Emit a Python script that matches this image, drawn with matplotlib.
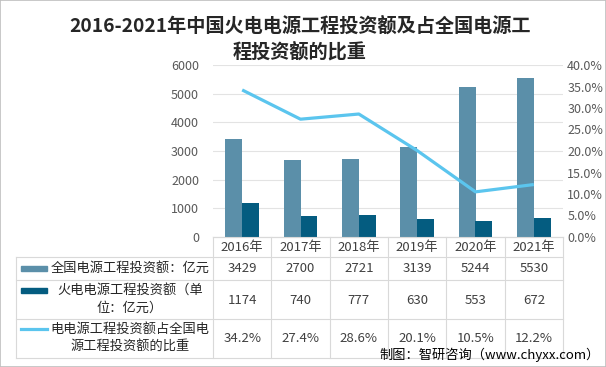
import matplotlib
matplotlib.use("Agg")
import matplotlib.pyplot as plt
from matplotlib.transforms import blended_transform_factory
from matplotlib.patches import Rectangle
from matplotlib.lines import Line2D

plt.rcParams['font.family'] = ['Noto Sans CJK SC', 'DejaVu Sans']

years = ['2016年', '2017年', '2018年', '2019年', '2020年', '2021年']
total_invest = [3429, 2700, 2721, 3139, 5244, 5530]
thermal_invest = [1174, 740, 777, 630, 553, 672]
share_pct = [34.2, 27.4, 28.6, 20.1, 10.5, 12.2]
row_labels = ['全国电源工程投资额：亿元', '火电电源工程投资额（单\n位：亿元）',
              '电电源工程投资额占全国电\n源工程投资额的比重']
title = '2016-2021年中国火电电源工程投资额及占全国电源工\n程投资额的比重'
source = '制图：智研咨询（www.chyxx.com）'

W, H = 606, 367
c_total = '#5B8FA9'
c_thermal = '#045C80'
c_line = '#5BC5EE'
c_grid = '#D9D9D9'
c_text = '#404040'

fig = plt.figure(figsize=(W / 100, H / 100), dpi=100)
AX_L, AX_R, AX_T, AX_B = 213, 563, 65, 237
ax = fig.add_axes([AX_L / W, 1 - AX_B / H, (AX_R - AX_L) / W, (AX_B - AX_T) / H])
ax2 = ax.twinx()

def fy(py):
    return (AX_B - py) / (AX_B - AX_T)

def fx(px):
    return (px - AX_L) / (AX_R - AX_L)

x = list(range(len(years)))
bw = 0.29
ax.bar([i - bw / 2 for i in x], total_invest, width=bw, color=c_total, zorder=3)
ax.bar([i + bw / 2 for i in x], thermal_invest, width=bw, color=c_thermal, zorder=3)
ax2.plot(x, share_pct, color=c_line, lw=2.3, zorder=4, solid_capstyle='butt')

ax.set_xlim(-0.5, len(years) - 0.5)
ax.set_ylim(0, 6000)
ax.set_yticks(range(0, 6001, 1000))
ax2.set_ylim(0, 40)
ax2.set_yticks(range(0, 41, 5))
ax2.set_yticklabels([f'{v:.1f}%' for v in range(0, 41, 5)])
ax.grid(axis='y', color='#E3E3E3', lw=0.8, zorder=0)
ax.set_xticks([])
for a in (ax, ax2):
    for s in ('top', 'left', 'right'):
        a.spines[s].set_visible(False)
    a.spines['bottom'].set_color(c_grid)
    a.tick_params(axis='y', length=0, labelsize=9, labelcolor='#595959')
ax.tick_params(axis='y', pad=10)
ax2.tick_params(axis='y', pad=3)

# Data table
bt = blended_transform_factory(ax.transData, ax.transAxes)
rows = [257, 280, 319, 358]
for py in rows:
    ax.add_line(Line2D([fx(16), 1], [fy(py), fy(py)], transform=ax.transAxes,
                       color=c_grid, lw=0.8, clip_on=False))
ax.add_line(Line2D([fx(16), fx(16)], [fy(257), fy(358)], transform=ax.transAxes,
                   color=c_grid, lw=0.8, clip_on=False))
for b in [i - 0.5 for i in range(len(years) + 1)]:
    ax.add_line(Line2D([b, b], [0, fy(358)], transform=bt,
                       color=c_grid, lw=0.8, clip_on=False))

fs = 9.5
for i, yr in enumerate(years):
    ax.text(i, fy(247), yr, transform=bt, ha='center', va='center',
            fontsize=fs, color=c_text)
    ax.text(i, fy(268.5), str(total_invest[i]), transform=bt, ha='center',
            va='center', fontsize=fs, color=c_text)
    ax.text(i, fy(300), str(thermal_invest[i]), transform=bt, ha='center',
            va='center', fontsize=fs, color=c_text)
    ax.text(i, fy(339), f'{share_pct[i]:.1f}%', transform=bt, ha='center',
            va='center', fontsize=fs, color=c_text)

label_y = [268.5, 299.5, 338]
for lab, py in zip(row_labels, label_y):
    ax.text(fx(130), fy(py), lab, transform=ax.transAxes, ha='center',
            va='center', fontsize=fs, color='#262626', linespacing=1.35)

kh = 5 / (AX_B - AX_T)
ax.add_patch(Rectangle((fx(21), fy(268.5) - kh / 2), fx(47) - fx(21), kh,
                       transform=ax.transAxes, color=c_total, clip_on=False))
ax.add_patch(Rectangle((fx(21), fy(290.5) - kh / 2), fx(47) - fx(21), kh,
                       transform=ax.transAxes, color=c_thermal, clip_on=False))
ax.add_line(Line2D([fx(21), fx(47)], [fy(329), fy(329)], transform=ax.transAxes,
                   color=c_line, lw=2.3, clip_on=False))

fig.text(0.495, 1 - 39 / H, title, ha='center', va='center', fontsize=13.8,
         fontweight='bold', color='#262626', linespacing=1.35)
fig.text(600 / W, 1 - 355 / H, source, ha='right', va='center', fontsize=9.5,
         color='black')

fig.add_artist(Rectangle((0, 0), 1, 1, transform=fig.transFigure, fill=False,
                         edgecolor='#BFBFBF', lw=1.2))

fig.savefig('out.png', dpi=100)
